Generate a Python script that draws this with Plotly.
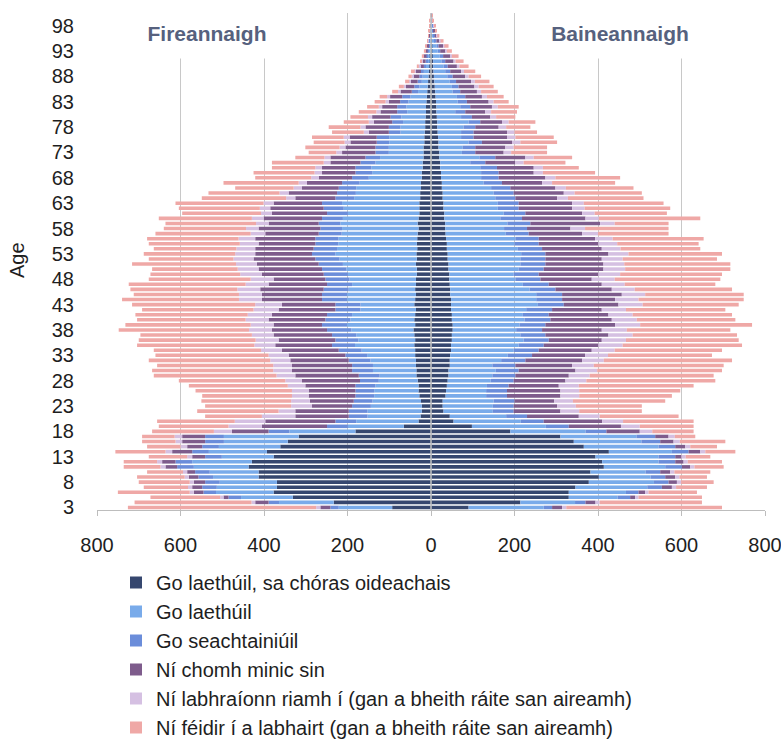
import plotly.graph_objects as go

ages = list(range(3, 101))
age_tick_values = [3, 8, 13, 18, 23, 28, 33, 38, 43, 48, 53, 58, 63, 68, 73, 78, 83, 88, 93, 98]
age_tick_labels = ["3", "8", "13", "18", "23", "28", "33", "38", "43", "48", "53", "58", "63", "68", "73", "78", "83", "88", "93", "98"]
x_tick_values = [-800, -600, -400, -200, 0, 200, 400, 600, 800]
x_tick_labels = ["800", "600", "400", "200", "0", "200", "400", "600", "800"]

categories = [
    "Go laethúil, sa chóras oideachais",
    "Go laethúil",
    "Go seachtainiúil",
    "Ní chomh minic sin",
    "Ní labhraíonn riamh í (gan a bheith ráite san aireamh)",
    "Ní féidir í a labhairt (gan a bheith ráite san aireamh)",
]
colors = ["#36476F", "#79ABEA", "#6B8DDA", "#7E5C8C", "#D5C0E2", "#EFA8A6"]

# Fireannaigh (males, drawn to the left), ages 3..100
m_navy = [93, 233, 331, 377, 369, 369, 413, 413, 437, 429,
          377, 393, 361, 343, 317, 181, 65, 30, 25, 22,
          22, 24, 28, 30, 30, 32, 35, 35, 36, 36,
          38, 38, 40, 38, 40, 42, 38, 40, 38, 36,
          40, 38, 36, 38, 36, 36, 34, 34, 36, 34,
          35, 33, 34, 33, 32, 30, 32, 30, 28, 28,
          28, 26, 26, 24, 24, 22, 22, 20, 20, 18,
          18, 18, 16, 16, 15, 14, 14, 13, 12, 12,
          11, 10, 9, 8, 7, 6, 5, 4, 3, 3,
          2, 2, 1, 1, 1, 0, 0, 0]
m_light = [128, 131, 124, 138, 144, 137, 109, 117, 131, 143,
           124, 139, 147, 153, 179, 158, 134, 149, 127, 130,
           122, 116, 108, 106, 103, 93, 88, 104, 103, 109,
           115, 128, 142, 136, 139, 149, 163, 153, 151, 133,
           129, 163, 165, 159, 153, 159, 165, 169, 175, 185,
           194, 192, 188, 189, 182, 183, 185, 181, 171, 181,
           185, 158, 154, 155, 147, 127, 119, 123, 113, 104,
           83, 83, 84, 84, 58, 59, 53, 58, 45, 47,
           43, 39, 22, 20, 15, 14, 12, 8, 6, 5,
           3, 2, 3, 2, 1, 1, 2, 1]
m_med = [20, 25, 30, 30, 35, 35, 35, 35, 40, 40,
         40, 40, 40, 45, 45, 50, 50, 50, 45, 45,
         45, 45, 45, 45, 48, 45, 50, 50, 50, 52,
         52, 55, 55, 55, 58, 58, 60, 60, 60, 60,
         60, 60, 60, 60, 60, 58, 58, 58, 58, 58,
         56, 56, 55, 55, 55, 52, 52, 50, 50, 48,
         48, 45, 45, 42, 42, 40, 40, 38, 36, 35,
         32, 32, 30, 30, 28, 28, 26, 26, 24, 22,
         20, 20, 15, 12, 10, 8, 7, 5, 4, 3,
         3, 2, 1, 1, 1, 1, 0, 0]
m_purple = [24, 32, 12, 23, 24, 27, 23, 19, 28, 32,
            31, 48, 36, 55, 55, 88, 156, 168, 128, 128,
            96, 105, 112, 112, 120, 139, 152, 144, 144, 140,
            136, 136, 136, 136, 140, 132, 116, 136, 132, 136,
            128, 144, 144, 152, 140, 124, 148, 152, 148, 148,
            136, 140, 136, 144, 128, 148, 120, 140, 132, 128,
            116, 96, 116, 88, 84, 80, 80, 80, 72, 84,
            80, 72, 63, 65, 48, 56, 44, 44, 40, 36,
            27, 29, 27, 20, 16, 14, 12, 9, 7, 6,
            5, 4, 2, 1, 1, 1, 0, 0]
m_lav = [10, 9, 8, 10, 10, 10, 10, 10, 12, 12,
         12, 16, 16, 16, 18, 43, 80, 73, 80, 40,
         50, 45, 40, 40, 42, 40, 45, 45, 45, 48,
         48, 50, 50, 55, 52, 55, 55, 55, 58, 60,
         64, 55, 55, 55, 55, 55, 52, 50, 50, 48,
         48, 45, 45, 40, 35, 30, 30, 28, 26, 25,
         24, 22, 22, 20, 20, 18, 18, 16, 16, 14,
         14, 14, 14, 14, 12, 12, 12, 10, 10, 8,
         8, 7, 6, 5, 4, 4, 3, 3, 2, 2,
         1, 1, 1, 0, 0, 0, 0, 0]
m_pink = [451, 280, 167, 172, 106, 122, 114, 86, 88, 80,
          92, 120, 80, 80, 78, 148, 167, 186, 136, 195,
          206, 215, 215, 231, 237, 255, 294, 290, 278, 291,
          271, 257, 281, 280, 267, 312, 300, 260, 269, 267,
          295, 280, 252, 256, 280, 244, 215, 205, 249, 203,
          219, 198, 218, 219, 228, 197, 217, 223, 189, 194,
          211, 202, 170, 140, 180, 134, 146, 104, 124, 70,
          66, 82, 74, 76, 76, 76, 60, 42, 42, 28,
          26, 18, 14, 12, 10, 8, 9, 5, 4, 3,
          3, 2, 1, 2, 1, 1, 1, 1]

# Baineannaigh (females, drawn to the right), ages 3..100
f_navy = [90, 214, 330, 330, 346, 378, 402, 382, 414, 410,
          394, 426, 366, 342, 310, 190, 98, 54, 45, 30,
          28, 28, 35, 36, 38, 40, 42, 42, 45, 45,
          46, 48, 48, 50, 50, 52, 52, 50, 50, 48,
          48, 48, 46, 46, 45, 44, 44, 42, 42, 40,
          40, 38, 38, 36, 35, 34, 34, 32, 32, 30,
          30, 28, 28, 26, 26, 24, 24, 22, 22, 20,
          20, 18, 18, 17, 16, 15, 15, 14, 13, 13,
          12, 11, 10, 9, 8, 7, 6, 5, 5, 4,
          3, 3, 2, 2, 1, 1, 0, 0]
f_light = [180, 131, 117, 137, 172, 156, 124, 132, 147, 135,
           151, 151, 179, 162, 182, 180, 177, 161, 135, 118,
           120, 122, 97, 96, 96, 103, 105, 113, 102, 123,
           138, 150, 162, 172, 164, 152, 160, 174, 170, 180,
           208, 204, 206, 190, 175, 158, 154, 168, 172, 174,
           176, 170, 162, 166, 144, 141, 149, 134, 142, 130,
           130, 126, 122, 118, 100, 96, 96, 96, 72, 96,
           54, 58, 72, 55, 56, 63, 75, 58, 45, 57,
           52, 51, 42, 41, 37, 32, 28, 25, 20, 17,
           13, 10, 7, 5, 3, 3, 2, 1]
f_med = [20, 25, 30, 30, 35, 35, 35, 35, 40, 40,
         40, 40, 40, 45, 45, 50, 55, 55, 50, 50,
         50, 50, 50, 50, 52, 55, 55, 55, 55, 58,
         58, 60, 60, 60, 60, 62, 62, 62, 62, 62,
         62, 62, 62, 62, 62, 60, 60, 60, 60, 60,
         58, 58, 58, 56, 55, 55, 55, 52, 52, 50,
         50, 48, 48, 46, 44, 42, 42, 40, 36, 38,
         32, 30, 32, 30, 30, 28, 28, 26, 24, 24,
         22, 20, 18, 16, 15, 13, 12, 10, 9, 8,
         6, 5, 4, 2, 2, 1, 1, 1]
f_purple = [24, 24, 12, 16, 24, 20, 24, 24, 20, 20,
            15, 28, 24, 32, 32, 80, 125, 140, 124, 112,
            104, 95, 128, 128, 120, 124, 128, 136, 136, 136,
            127, 127, 131, 127, 151, 143, 167, 147, 143, 119,
            131, 127, 143, 135, 127, 123, 143, 143, 139, 135,
            151, 143, 143, 135, 128, 104, 167, 152, 136, 128,
            128, 100, 120, 108, 96, 112, 84, 88, 72, 72,
            68, 72, 72, 80, 80, 56, 52, 44, 48, 52,
            52, 40, 40, 38, 36, 30, 26, 22, 20, 17,
            13, 11, 8, 5, 4, 2, 1, 1]
f_lav = [10, 10, 8, 8, 10, 10, 10, 10, 10, 10,
         10, 12, 12, 15, 15, 30, 45, 50, 50, 45,
         45, 45, 45, 45, 48, 50, 50, 52, 52, 52,
         55, 55, 58, 58, 58, 60, 60, 60, 58, 58,
         58, 56, 56, 55, 55, 55, 52, 52, 50, 50,
         48, 45, 45, 42, 38, 35, 35, 32, 30, 30,
         28, 26, 26, 25, 24, 24, 22, 22, 20, 20,
         18, 20, 20, 20, 18, 18, 16, 14, 14, 14,
         12, 12, 10, 10, 9, 8, 7, 6, 5, 4,
         3, 3, 2, 1, 1, 1, 0, 0]
f_pink = [373, 245, 152, 116, 74, 78, 66, 86, 70, 82,
          59, 72, 64, 109, 49, 99, 129, 169, 189, 150,
          158, 221, 222, 242, 275, 309, 297, 299, 311, 307,
          249, 257, 286, 270, 250, 248, 268, 236, 238, 238,
          230, 252, 236, 233, 217, 253, 244, 252, 254, 226,
          224, 191, 195, 218, 169, 200, 129, 243, 173, 205,
          191, 181, 161, 162, 151, 155, 125, 86, 100, 92,
          86, 80, 88, 92, 54, 58, 64, 46, 62, 50,
          36, 40, 40, 36, 35, 30, 27, 22, 19, 16,
          12, 10, 7, 5, 3, 2, 2, 1]

male_series = [m_navy, m_light, m_med, m_purple, m_lav, m_pink]
female_series = [f_navy, f_light, f_med, f_purple, f_lav, f_pink]
for s in male_series + female_series:
    assert len(s) == len(ages), len(s)

FONT = "Liberation Sans, Arial, sans-serif"

fig = go.Figure()
for name, color, mv, fv in zip(categories, colors, male_series, female_series):
    fig.add_trace(go.Bar(
        y=ages, x=[-v for v in mv], orientation="h", name=name,
        marker=dict(color=color, line=dict(width=0)), showlegend=True,
        hoverinfo="skip",
    ))
    fig.add_trace(go.Bar(
        y=ages, x=fv, orientation="h", name=name,
        marker=dict(color=color, line=dict(width=0)), showlegend=False,
        hoverinfo="skip",
    ))

L, R, T, B = 97, 16, 13, 230
W, H = 781, 740
plot_w = W - L - R
plot_h = H - T - B

def px_x(px):
    return (px - L) / plot_w

def px_y(py):
    return (H - B - py) / plot_h

fig.update_layout(
    width=W, height=H, autosize=False,
    margin=dict(l=L, r=R, t=T, b=B, pad=0, autoexpand=False),
    paper_bgcolor="white", plot_bgcolor="white",
    barmode="relative", bargap=0.3,
    font=dict(family=FONT, size=20, color="#1E1E1E"),
    xaxis=dict(
        range=[-800, 800], tickvals=x_tick_values, ticktext=x_tick_labels,
        showgrid=True, gridcolor="#C8C8C8", gridwidth=1,
        zeroline=False, showline=True, linecolor="#BDBDBD", linewidth=1,
        ticks="outside", ticklen=5, tickcolor="#BDBDBD",
        ticklabelstandoff=12, ticklabeloverflow="allow",
        tickfont=dict(size=20, color="#1E1E1E"),
    ),
    yaxis=dict(
        range=[2.5, 100.5], tickvals=age_tick_values, ticktext=age_tick_labels,
        showgrid=False, zeroline=False, showline=False, ticks="",
        ticklabelstandoff=22, tickfont=dict(size=20, color="#1E1E1E"),
    ),
    legend=dict(
        orientation="v", traceorder="normal",
        x=px_x(116), xanchor="left", y=px_y(563), yanchor="top",
        font=dict(size=20, color="#1E1E1E"), bgcolor="rgba(0,0,0,0)",
        itemwidth=30, tracegroupgap=0,
    ),
    shapes=[dict(
        type="line", xref="x", yref="paper", x0=0, x1=0, y0=0, y1=1,
        line=dict(color="#C4C4C4", width=1.5), layer="above",
    )],
    annotations=[
        dict(text="<b>Fireannaigh</b>", xref="paper", yref="paper",
             x=px_x(207), y=px_y(7), xanchor="center", yanchor="top",
             showarrow=False, width=150, height=48, valign="middle",
             bgcolor="white", font=dict(size=21, color="#56617E", family=FONT)),
        dict(text="<b>Baineannaigh</b>", xref="paper", yref="paper",
             x=px_x(620), y=px_y(7), xanchor="center", yanchor="top",
             showarrow=False, width=164, height=48, valign="middle",
             bgcolor="white", font=dict(size=21, color="#56617E", family=FONT)),
        dict(text="Age", xref="paper", yref="paper",
             x=px_x(17), y=px_y(260), xanchor="center", yanchor="middle",
             textangle=-90, showarrow=False,
             font=dict(size=20, color="#1E1E1E", family=FONT)),
    ],
)

fig.write_html("out.html", config={"displayModeBar": False},
               post_script="document.body.style.margin='0px';")
